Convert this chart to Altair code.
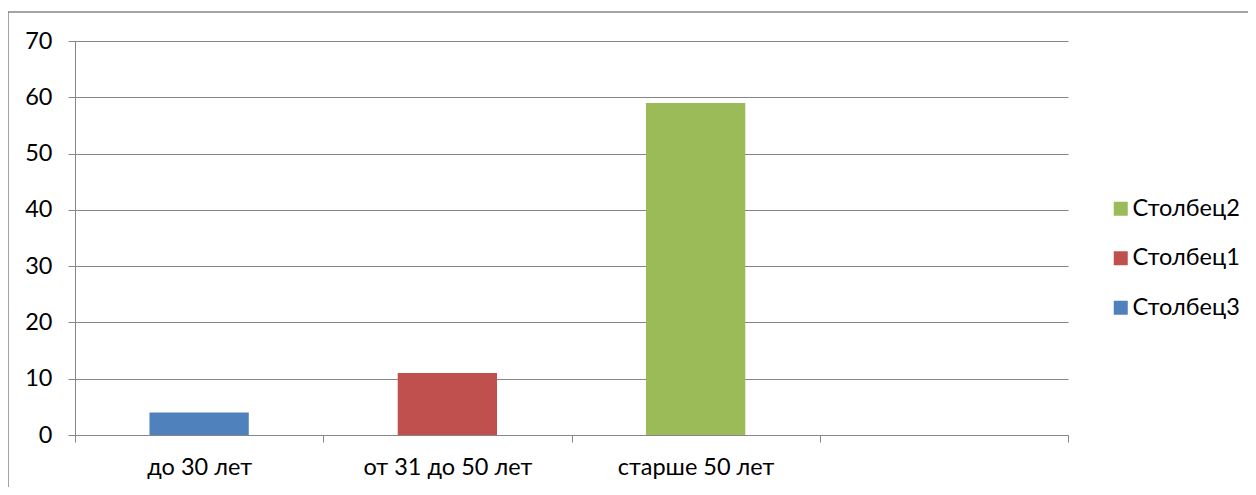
import altair as alt
import pandas as pd

categories = ["до 30 лет", "от 31 до 50 лет", "старше 50 лет", " "]
bar_category = ["до 30 лет", "от 31 до 50 лет", "старше 50 лет"]
bar_series = ["Столбец3", "Столбец1", "Столбец2"]
bar_values = [4, 11, 59]
legend_order = ["Столбец2", "Столбец1", "Столбец3"]
legend_colors = ["#9BBB59", "#C0504D", "#4F81BD"]
y_ticks = [0, 10, 20, 30, 40, 50, 60, 70]

FONT = "Lato"
GRID = "#868686"
FS = 23.5

df = pd.DataFrame({"cat": bar_category, "series": bar_series, "value": bar_values})

bars = alt.Chart(df).mark_bar(width=alt.RelativeBandSize(0.4)).encode(
    x=alt.X("cat:N", sort=categories,
            scale=alt.Scale(domain=categories, paddingInner=0, paddingOuter=0),
            axis=alt.Axis(title=None, labelAngle=0, tickBand="extent", grid=False,
                          domainColor=GRID, tickColor=GRID, tickSize=7,
                          labelPadding=13, labelFontSize=FS, labelFont=FONT,
                          labelColor="#000000")),
    y=alt.Y("value:Q", scale=alt.Scale(domain=[0, 70], nice=False),
            axis=alt.Axis(title=None, values=y_ticks, grid=True, gridColor=GRID,
                          gridOpacity=1, domainColor=GRID, tickColor=GRID, tickSize=7,
                          labelPadding=16, labelFontSize=FS, labelFont=FONT,
                          labelColor="#000000")),
    color=alt.Color("series:N",
                    scale=alt.Scale(domain=legend_order, range=legend_colors),
                    legend=alt.Legend(title=None, orient="none", legendX=1034, legendY=156,
                                      symbolType="square", symbolSize=196,
                                      symbolStrokeWidth=0, labelFontSize=FS,
                                      labelFont=FONT, labelOffset=0, rowPadding=24.5,
                                      padding=0, labelColor="#000000")),
)

frame_df = pd.DataFrame({"a": [0]})
frame_top = alt.Chart(frame_df).mark_rule(color=GRID, strokeWidth=1.5).encode(
    x=alt.value(-67), x2=alt.value(1173), y=alt.value(-29))
frame_left = alt.Chart(frame_df).mark_rule(color=GRID, strokeWidth=1.5).encode(
    x=alt.value(-67), y=alt.value(-29), y2=alt.value(460))

chart = alt.layer(bars, frame_top, frame_left).properties(
    width=993, height=394,
    autosize=alt.AutoSizeParams(type="none"),
    padding={"left": 67, "top": 33, "right": 180, "bottom": 52},
).configure_view(stroke=None).configure_axis(domainWidth=1, tickWidth=1, gridWidth=1)

chart.save("out.html", embed_options={"renderer": "svg", "actions": False})
